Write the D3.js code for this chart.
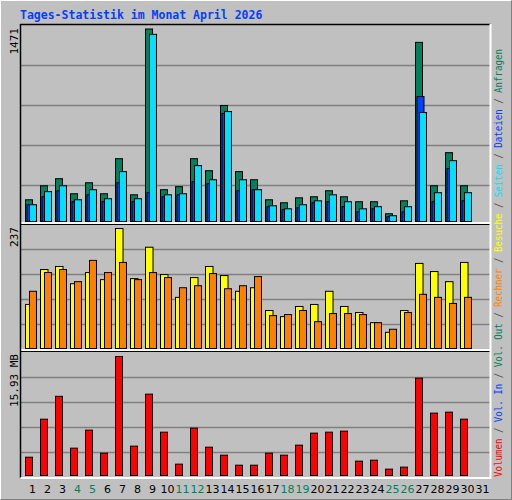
<!DOCTYPE html>
<html><head><meta charset="utf-8">
<script src="https://cdn.jsdelivr.net/npm/d3@7"></script>
<style>body{margin:0;background:#fff}</style>
</head><body>
<script>
const days = d3.range(1, 32);
const weekend = [4, 5, 11, 12, 18, 19, 25, 26];
const anfragen = [166,273,327,212,296,212,480,204,1471,243,266,480,388,886,381,319,166,143,181,189,235,189,151,151,59,158,1369,273,526,273];
const dateien  = [128,189,235,151,204,151,296,151,220,189,204,304,289,825,235,243,113,90,105,143,151,113,74,97,36,74,955,151,404,158];
const seiten   = [128,228,273,166,243,174,381,174,1430,204,212,427,319,840,319,243,120,97,128,158,204,151,97,113,44,113,833,220,465,220];
const besuche  = [87,156,162,128,150,136,237,138,200,146,101,140,162,144,113,120,75,63,83,87,113,83,71,51,32,75,168,152,132,170];
const rechner  = [113,150,156,132,174,150,170,136,150,140,120,124,148,118,124,142,65,67,75,53,69,69,67,51,38,71,107,101,89,101];
const volumen  = [2.45,7.54,10.6,3.66,6.07,2.99,15.93,3.93,10.89,5.8,1.52,6.34,3.79,2.72,1.38,1.38,2.99,2.72,4.06,5.67,5.8,5.94,1.92,2.05,0.85,1.12,13.03,8.35,8.48,7.54];
const maxLabels = ['1471', '237', '15.93 MB'];
const legend = [['Volumen','#ff0000'],['Vol. In','#0040ff'],['Vol. Out','#00805c'],['Rechner','#ff8000'],['Besuche','#ffff00'],['Seiten','#00e0ff'],['Dateien','#0040ff'],['Anfragen','#00805c']];

const W = 512, H = 500, mono = 'DejaVu Sans Mono, monospace';
const svg = d3.select('body').append('svg').attr('width', W).attr('height', H);
svg.append('rect').attr('width', W).attr('height', H).attr('fill', '#c0c0c0');
svg.append('path').attr('d', `M0.5,${H-0.5}V0.5H${W-0.5}`).attr('fill','none').attr('stroke','#fff');
svg.append('path').attr('d', `M0.5,${H-0.5}H${W-0.5}V0.5`).attr('fill','none').attr('stroke','#808080');

svg.append('text').attr('x', 20).attr('y', 19)
    .attr('font-family', mono).attr('font-weight', 'bold').attr('font-size', 11.5)
    .attr('fill', '#0040ff').text('Tages-Statistik im Monat April 2026');

const x = d3.scaleLinear().domain([1, 32]).range([25, 490]);
const X0 = 20.5, X1 = 490.5;

//Panels: top, bottom border, baseline, gridlines.
const panels = [
    {top: 25, bot: 224, base: 221.5, grid: [65,105,145,185], max: 1471, maxY: 29},
    {top: 224, bot: 351, base: 348.5, grid: [249,274,299,324], max: 237, maxY: 228.5},
    {top: 351, bot: 478, base: 475.5, grid: [377,402,427,452], max: 15.93, maxY: 356.5}
];
panels.forEach((p, i) => {
    p.y = d3.scaleLinear().domain([0, p.max]).range([p.base, p.maxY]);
    svg.selectAll(null).data(p.grid).join('line')
        .attr('x1', X0).attr('x2', X1).attr('y1', d => d + 0.5).attr('y2', d => d + 0.5)
        .attr('stroke', '#808080').attr('stroke-width', 1.5);
    if (i) {
        svg.append('line').attr('x1', X0).attr('x2', X1).attr('y1', p.top - 1).attr('y2', p.top - 1)
            .attr('stroke', '#fff').attr('stroke-width', 2);
        svg.append('line').attr('x1', X0).attr('x2', X1).attr('y1', p.top + 0.5).attr('y2', p.top + 0.5)
            .attr('stroke', '#000').attr('stroke-width', 1.2);
    }
    svg.append('text').attr('transform', `translate(18,${p.top + 3}) rotate(-90)`)
        .attr('text-anchor', 'end').attr('font-family', mono).attr('font-size', 11)
        .attr('fill', '#000').text(maxLabels[i]);
});
svg.append('path').attr('d', `M${X0 - 0.5},24.5H${X1}`).attr('stroke', '#000').attr('stroke-width', 1.5);
svg.append('line').attr('x1', X0).attr('x2', X0).attr('y1', 24).attr('y2', 478).attr('stroke', '#000').attr('stroke-width', 1.5);
svg.append('path').attr('d', `M${X0},478H${X1}V24`).attr('fill', 'none').attr('stroke', '#fff').attr('stroke-width', 2);

function bars(vals, p, dx, w, col) {
    svg.append('g').selectAll('rect').data(vals).join('rect')
        .attr('x', (d, i) => x(i + 1) + dx)
        .attr('y', d => p.y(d))
        .attr('width', w)
        .attr('height', d => p.base - p.y(d))
        .attr('fill', col).attr('stroke', '#000').attr('stroke-width', 1);
}
bars(anfragen, panels[0], 0.5, 7, '#00805c');
bars(dateien, panels[0], 2, 7, '#0040ff');
bars(seiten, panels[0], 4.5, 7, '#00e0ff');
bars(besuche, panels[1], 0.5, 7.5, '#ffff00');
bars(rechner, panels[1], 4.5, 7, '#ff8000');
bars(volumen, panels[2], 0.5, 7, '#ff0000');

svg.append('g').selectAll('text').data(days).join('text')
    .attr('x', d => x(d) + 7.5).attr('y', 493)
    .attr('text-anchor', 'middle').attr('font-family', 'DejaVu Sans, sans-serif').attr('font-size', 11)
    .attr('fill', d => weekend.includes(d) ? '#00805c' : '#000').text(d => d);

const lt = svg.append('text').attr('transform', 'translate(502,477) rotate(-90)')
    .attr('font-family', mono).attr('font-size', 10)
    .attr('textLength', 428).attr('lengthAdjust', 'spacingAndGlyphs');
legend.forEach(([t, c], i) => {
    if (i) lt.append('tspan').attr('fill', '#404040').text(' / ');
    lt.append('tspan').attr('fill', c).text(t);
});
</script>
</body></html>
